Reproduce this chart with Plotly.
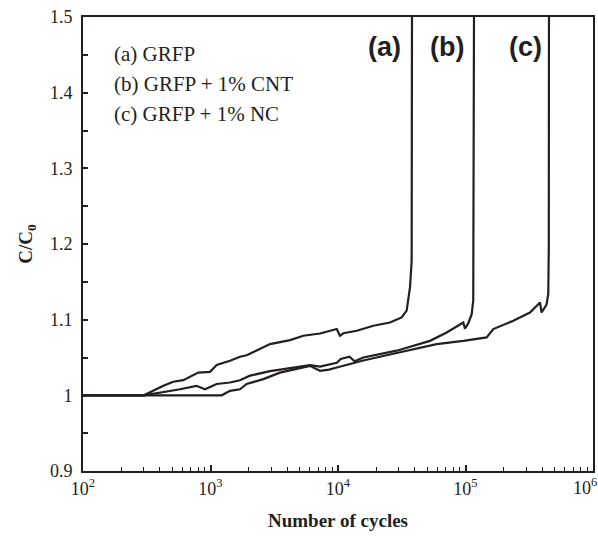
import plotly.graph_objects as go

# ---- data ----
cycles_a = [100, 300, 427, 510, 612, 802, 991, 1118, 1423, 1703, 1922, 2168, 2930, 4208, 5350,
            7230, 8650, 9780, 10370, 11000, 14030, 18940, 25570, 31570, 34550, 36700, 37830,
            38000, 38100]
ratio_a = [1.0, 1.0, 1.0126, 1.018, 1.020, 1.030, 1.031, 1.040, 1.0456, 1.051, 1.053, 1.0575,
           1.0677, 1.073, 1.0787, 1.0817, 1.0853, 1.0876, 1.0787, 1.082, 1.0853, 1.092, 1.0963,
           1.103, 1.112, 1.1426, 1.178, 1.27, 1.6]

cycles_b = [100, 300, 577, 776, 905, 1118, 1423, 1703, 2040, 2930, 4208, 6030, 7230, 9780,
            10500, 12300, 13500, 15780, 28840, 40000, 52700, 71200, 88000, 96100, 99000,
            105000, 111700, 115000, 117000]
ratio_b = [1.0, 1.0, 1.008, 1.0126, 1.008, 1.015, 1.017, 1.020, 1.026, 1.032, 1.036, 1.040,
           1.038, 1.043, 1.048, 1.051, 1.045, 1.050, 1.059, 1.066, 1.072, 1.083, 1.092, 1.0963,
           1.088, 1.095, 1.107, 1.125, 1.6]

cycles_c = [100, 1224, 1423, 1703, 1922, 2594, 3508, 4743, 6030, 7230, 8500, 9780, 15780,
            28840, 59400, 96100, 146500, 165200, 237000, 320500, 384000, 395000, 432300,
            445800, 450000, 452000]
ratio_c = [1.0, 1.0, 1.006, 1.008, 1.015, 1.0214, 1.030, 1.0347, 1.039, 1.0324, 1.034, 1.0368,
           1.046, 1.056, 1.0677, 1.072, 1.0765, 1.0876, 1.0985, 1.1095, 1.1228, 1.1095, 1.12,
           1.134, 1.195, 1.6]

x_tickvals = [100, 1000, 10000, 100000, 1000000]
x_ticktext = ["10<sup>2</sup>", "10<sup>3</sup>", "10<sup>4</sup>", "10<sup>5</sup>", ""]
last_x_label = "10<sup>6</sup>"   # drawn separately so it stays inside the page
x_minor_vals = [m * d for d in [100, 1000, 10000, 100000] for m in range(2, 10)]

y_tickvals = [0.9, 1.0, 1.1, 1.2, 1.3, 1.4, 1.5]
y_ticktext = ["0.9", "1", "1.1", "1.2", "1.3", "1.4", "1.5"]
y_minor_vals = [0.95, 1.05, 1.15, 1.25, 1.35, 1.45]

legend_lines = ["(a) GRFP", "(b) GRFP + 1% CNT", "(c) GRFP + 1% NC"]
curve_labels = ["(a)", "(b)", "(c)"]

SERIF = "Liberation Serif, Times New Roman, serif"
SANS = "Liberation Sans, Arial, sans-serif"
INK = "#231f20"

fig = go.Figure()
for xs, ys in [(cycles_a, ratio_a), (cycles_b, ratio_b), (cycles_c, ratio_c)]:
    fig.add_trace(go.Scatter(x=xs, y=ys, mode="lines",
                             line=dict(color=INK, width=2.2), showlegend=False))

# legend-like text block
for i, t in enumerate(legend_lines):
    fig.add_annotation(x=0.057, y=0.918 - i * 0.066, xref="paper", yref="paper",
                       text=t, showarrow=False, xanchor="left", yanchor="middle",
                       font=dict(family=SERIF, size=21, color=INK))

# curve labels
for lab, px in zip(curve_labels, [0.592, 0.714, 0.867]):
    fig.add_annotation(x=px, y=0.935, xref="paper", yref="paper", text="<b>" + lab + "</b>",
                       showarrow=False, xanchor="center", yanchor="middle",
                       font=dict(family=SANS, size=27, color=INK))

# last x tick label, nudged left like the reference
fig.add_annotation(x=1.0, y=0, xref="paper", yref="paper", text=last_x_label,
                   showarrow=False, xanchor="right", yanchor="top", xshift=6, yshift=-2,
                   font=dict(family=SERIF, size=18, color=INK))

fig.update_layout(
    width=598, height=537,
    margin=dict(l=83, r=5, t=17, b=66),
    paper_bgcolor="white", plot_bgcolor="white",
    font=dict(family=SERIF, color=INK),
    xaxis=dict(type="log", range=[2, 6], tickmode="array",
               tickvals=x_tickvals, ticktext=x_ticktext,
               ticks="inside", ticklen=6, tickwidth=1.5, tickcolor=INK,
               minor=dict(tickmode="array", tickvals=x_minor_vals, ticks="inside",
                          ticklen=4, tickwidth=1.3, tickcolor=INK, showgrid=False),
               showline=True, linewidth=2, linecolor=INK, mirror=True,
               showgrid=False, zeroline=False, automargin=False,
               ticklabeloverflow="allow",
               tickfont=dict(family=SERIF, size=18, color=INK),
               title=dict(text="<b>Number of cycles</b>", standoff=16,
                          font=dict(family=SERIF, size=19, color=INK))),
    yaxis=dict(range=[0.9, 1.5], tickmode="array",
               tickvals=y_tickvals, ticktext=y_ticktext,
               ticks="inside", ticklen=5, tickwidth=1.5, tickcolor=INK,
               minor=dict(tickmode="array", tickvals=y_minor_vals, ticks="inside",
                          ticklen=5, tickwidth=1.5, tickcolor=INK, showgrid=False),
               showline=True, linewidth=2, linecolor=INK, mirror=True,
               showgrid=False, zeroline=False, automargin=False,
               ticklabelstandoff=5,
               tickfont=dict(family=SERIF, size=18, color=INK),
               title=dict(text="<b>C/C<sub>0</sub></b>", standoff=12,
                          font=dict(family=SERIF, size=19, color=INK))),
)

fig.write_html("out.html", config={"displayModeBar": False},
               post_script="document.body.style.margin='0';document.body.style.overflow='hidden';")
